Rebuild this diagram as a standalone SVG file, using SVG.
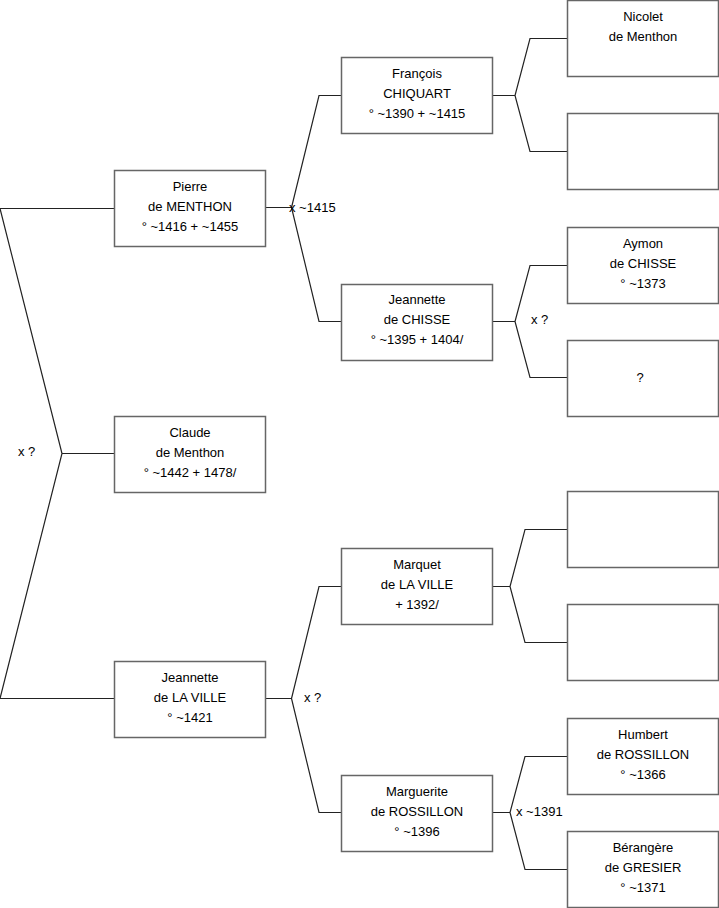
<svg xmlns="http://www.w3.org/2000/svg" width="719" height="908" viewBox="0 0 719 908">
<style>
.box{fill:#fff;stroke:#666;stroke-width:1.5}
.t{font-family:"Liberation Sans",Arial,sans-serif;font-size:13px;fill:#000;text-anchor:middle}
.l{font-family:"Liberation Sans",Arial,sans-serif;font-size:13px;fill:#000}
.c{fill:none;stroke:#222;stroke-width:1.2}
</style>
<rect width="719" height="908" fill="#fff"/>
<g id="connectors">
<path class="c" d="M0 208.5H114M0 698.5H114M0 208.5L62 453.5L0 698.5M62 453.5H114"/>
<path class="c" d="M265 207.5H291.5M341 95.5H319L291.5 207.5L319 321.5H341"/>
<path class="c" d="M492 95.5H515M567 38.5H530L515 95.5L530 151.5H567"/>
<path class="c" d="M492 321.5H515M567 265.5H530L515 321.5L530 377.5H567"/>
<path class="c" d="M265 698.5H291.5M341 586.5H319L291.5 698.5L319 812.5H341"/>
<path class="c" d="M492 586.5H510M567 529.5H525L510 586.5L525 642.5H567"/>
<path class="c" d="M492 812.5H510M567 756.5H525L510 812.5L525 869.5H567"/>
<text class="l" x="18" y="456">x ?</text>
<text class="l" x="289" y="211.5">x ~1415</text>
<text class="l" x="531" y="324">x ?</text>
<text class="l" x="304" y="702">x ?</text>
<text class="l" x="516" y="816">x ~1391</text>
</g>
<g id="pierre"><rect class="box" x="114.5" y="170.5" width="151" height="76"/>
<text class="t" x="190" y="191">Pierre</text><text class="t" x="190" y="211">de MENTHON</text><text class="t" x="190" y="231">° ~1416 + ~1455</text></g>
<g id="claude"><rect class="box" x="114.5" y="416.5" width="151" height="76"/>
<text class="t" x="190" y="437">Claude</text><text class="t" x="190" y="457">de Menthon</text><text class="t" x="190" y="477">° ~1442 + 1478/</text></g>
<g id="jeannette-laville"><rect class="box" x="114.5" y="661.5" width="151" height="76"/>
<text class="t" x="190" y="682">Jeannette</text><text class="t" x="190" y="702">de LA VILLE</text><text class="t" x="190" y="722">° ~1421</text></g>
<g id="francois"><rect class="box" x="341.5" y="57.5" width="151" height="76"/>
<text class="t" x="417" y="78">François</text><text class="t" x="417" y="98">CHIQUART</text><text class="t" x="417" y="118">° ~1390 + ~1415</text></g>
<g id="jeannette-chisse"><rect class="box" x="341.5" y="284.5" width="151" height="76"/>
<text class="t" x="417" y="304">Jeannette</text><text class="t" x="417" y="324">de CHISSE</text><text class="t" x="417" y="344">° ~1395 + 1404/</text></g>
<g id="marquet"><rect class="box" x="341.5" y="548.5" width="151" height="76"/>
<text class="t" x="417" y="569">Marquet</text><text class="t" x="417" y="589">de LA VILLE</text><text class="t" x="417" y="609">+ 1392/</text></g>
<g id="marguerite"><rect class="box" x="341.5" y="775.5" width="151" height="76"/>
<text class="t" x="417" y="796">Marguerite</text><text class="t" x="417" y="816">de ROSSILLON</text><text class="t" x="417" y="836">° ~1396</text></g>
<g id="nicolet"><rect class="box" x="567.5" y="0.5" width="151" height="76"/>
<text class="t" x="643" y="21">Nicolet</text><text class="t" x="643" y="41">de Menthon</text></g>
<g id="empty1"><rect class="box" x="567.5" y="113.5" width="151" height="76"/></g>
<g id="aymon"><rect class="box" x="567.5" y="227.5" width="151" height="76"/>
<text class="t" x="643" y="248">Aymon</text><text class="t" x="643" y="268">de CHISSE</text><text class="t" x="643" y="288">° ~1373</text></g>
<g id="unknown"><rect class="box" x="567.5" y="340.5" width="151" height="76"/>
<text class="t" x="640" y="382">?</text></g>
<g id="empty2"><rect class="box" x="567.5" y="491.5" width="151" height="76"/></g>
<g id="empty3"><rect class="box" x="567.5" y="604.5" width="151" height="76"/></g>
<g id="humbert"><rect class="box" x="567.5" y="718.5" width="151" height="76"/>
<text class="t" x="643" y="739">Humbert</text><text class="t" x="643" y="759">de ROSSILLON</text><text class="t" x="643" y="779">° ~1366</text></g>
<g id="berangere"><rect class="box" x="567.5" y="831.5" width="151" height="76"/>
<text class="t" x="643" y="852">Bérangère</text><text class="t" x="643" y="872">de GRESIER</text><text class="t" x="643" y="892">° ~1371</text></g>
</svg>
